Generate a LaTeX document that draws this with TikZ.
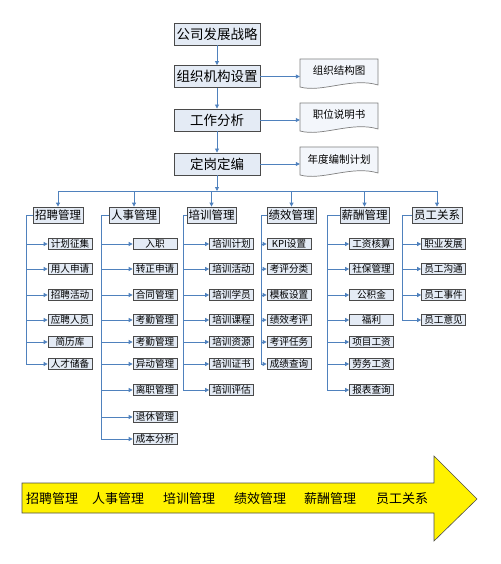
\documentclass[tikz,border=0pt]{standalone}
\usepackage{fontspec}
\newfontfamily\cjk{Noto Sans CJK SC}
\usetikzlibrary{arrows.meta}
\definecolor{lineblue}{HTML}{4F81BD}
\definecolor{boxfill}{HTML}{E4EBF5}
\definecolor{boxborder}{HTML}{4A4A4A}
\definecolor{docborder}{HTML}{7F7F7F}
\definecolor{docfill}{HTML}{F3F6FB}
\tikzset{
  conn/.style={draw=lineblue, line width=0.8pt},
  arr/.style={conn, -{Triangle[length=4pt,width=4pt]}},
  topbox/.style={draw=boxborder, fill=boxfill, line width=0.9pt, minimum width=86, minimum height=22, inner sep=0pt, font=\cjk\fontsize{13.5}{14}\selectfont},
  catbox/.style={draw=boxborder, fill=boxfill, line width=0.8pt, minimum width=50, minimum height=16, inner sep=0pt, font=\cjk\fontsize{11.5}{12}\selectfont},
  subbox/.style={draw=boxborder, fill=boxfill, line width=0.7pt, minimum width=44, minimum height=10.5, inner sep=0pt, font=\cjk\fontsize{9.6}{10}\selectfont},
  docnode/.style={minimum width=78, minimum height=28, inner sep=0pt, font=\cjk\fontsize{10.5}{11}\selectfont},
  doccurve/.style={draw=docborder, fill=docfill, line width=0.7pt},
  bigtext/.style={font=\cjk\fontsize{13}{14}\selectfont, inner sep=0pt}
}
\begin{document}
\begin{tikzpicture}[x=1pt,y=-1pt]
\useasboundingbox (0,0) rectangle (500,564);

% top chain
\node[topbox] (b1) at (217,34) {公司发展战略};
\node[topbox] (b2) at (217,76.5) {组织机构设置};
\node[topbox] (b3) at (217,120) {工作分析};
\node[topbox] (b4) at (217,164) {定岗定编};
\draw[arr] (b1.south) -- (b2.north);
\draw[arr] (b2.south) -- (b3.north);
\draw[arr] (b3.south) -- (b4.north);

% documents
\foreach \nm/\top/\txt in {d1/59/组织结构图, d2/103/职位说明书, d3/147/年度编制计划}{
  \draw[doccurve] (300,\top) -- (378,\top) -- (378,\top+26)
     .. controls (352,\top+18) and (322,\top+34) .. (300,\top+28) -- cycle;
  \node[docnode] (\nm) at (339,\top+14) {};
  \node[font=\cjk\fontsize{10.5}{11}\selectfont, inner sep=0pt] (\nm t) at (339,\top+12) {\txt};
}
\draw[arr] (b2.east) -- (b2.east -| d1.west);
\draw[arr] (b3.east) -- (b3.east -| d2.west);
\draw[arr] (b4.east) -- (b4.east -| d3.west);

% bus
\coordinate (busc) at (217,191);
\coordinate (busl) at (58,191);
\coordinate (busr) at (437,191);
\draw[arr] (b4.south) -- (busc);
\draw[conn] (busl) -- (busr);

% categories
\node[catbox] (c1) at (58,215) {招聘管理};
\node[catbox] (c2) at (134,215) {人事管理};
\node[catbox, minimum width=49] (c3) at (211.5,215) {培训管理};
\node[catbox, minimum width=49] (c4) at (291.5,215) {绩效管理};
\node[catbox, minimum width=49] (c5) at (364.5,215) {薪酬管理};
\node[catbox] (c6) at (437,215) {员工关系};
\foreach \c in {c1,c2,c3,c4,c5,c6}{
  \draw[arr] (\c.north |- busl) -- (\c.north);
}

% sub items
\def\rowy#1{\ifcase#1\or 244\or 269\or 295\or 320\or 342\or 364\or 390\or 417\or 439\fi}

\newcommand{\subcol}[4]{% #1 cat, #2 line x, #3 box center x, #4 list
  \coordinate (#1top) at (#2,215);
  \foreach \t [count=\i] in {#4}{
    \node[subbox] (#1s\i) at (#3,\rowy{\i}) {\t};
    \draw[arr] (#1s\i.west -| #1top) -- (#1s\i.west);
    \xdef\lastidx{\i}
  }
  \draw[conn] (#1.west) -- (#1top) -- (#1s\lastidx.west -| #1top);
}
\subcol{c1}{26}{70}{计划征集,用人申请,招聘活动,应聘人员,简历库,人才储备}
\subcol{c2}{101}{155}{入职,转正申请,合同管理,考勤管理,考勤管理,异动管理,离职管理,退休管理,成本分析}
\subcol{c3}{183}{231.5}{培训计划,培训活动,培训学员,培训课程,培训资源,培训证书,培训评估}
\subcol{c4}{261}{289}{KPI设置,考评分类,模板设置,绩效考评,考评任务,成绩查询}
\subcol{c5}{327}{371.5}{工资核算,社保管理,公积金,福利,项目工资,劳务工资,报表查询}
\subcol{c6}{402}{443.5}{职业发展,员工沟通,员工事件,员工意见}

% big arrow
\draw[draw=gray!60!black, fill=yellow, line width=0.6pt]
  (22,483) -- (434,483) -- (434,456) -- (477,499) -- (434,541) -- (434,513) -- (22,513) -- cycle;
\node[bigtext] (a1) at (52,499) {招聘管理};
\node[bigtext] (a2) at (118,499) {人事管理};
\node[bigtext] (a3) at (189,499) {培训管理};
\node[bigtext] (a4) at (260,499) {绩效管理};
\node[bigtext] (a5) at (330,499) {薪酬管理};
\node[bigtext] (a6) at (402,499) {员工关系};
\end{tikzpicture}
\end{document}
